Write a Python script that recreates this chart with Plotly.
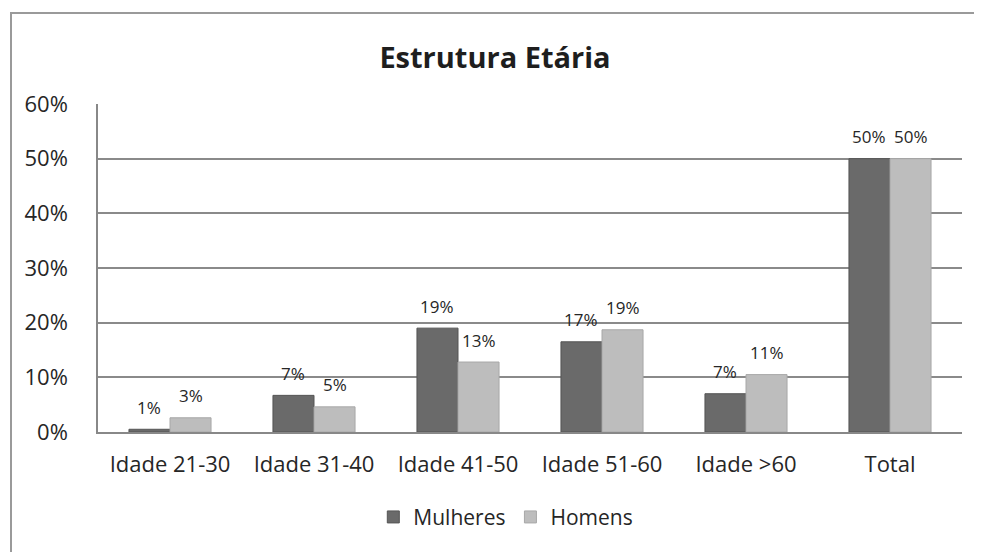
import plotly.graph_objects as go

categories = ["Idade 21-30", "Idade 31-40", "Idade 41-50", "Idade 51-60", "Idade >60", "Total"]
mulheres = [0.5, 6.7, 19.0, 16.5, 7.0, 50.0]
homens = [2.6, 4.6, 12.8, 18.7, 10.5, 50.0]
mulheres_labels = ["1%", "7%", "19%", "17%", "7%", "50%"]
homens_labels = ["3%", "5%", "13%", "19%", "11%", "50%"]
y_ticks = [0, 10, 20, 30, 40, 50, 60]

FONT = "Open Sans"
TEXT = "#262626"

# page body has an 8px margin, so figure is 8px smaller and margins shifted
W, H = 974, 544
L, R, T, B = 90, 20, 96, 120
plot_w = W - L - R
plot_h = H - T - B
BARGAP = 0.43
half_bar = plot_w / len(categories) * (1 - BARGAP) / 4

fig = go.Figure()
fig.add_trace(go.Bar(
    x=categories, y=mulheres, name="Mulheres",
    marker=dict(color="#6a6a6a", line=dict(color="#555555", width=1)),
))
fig.add_trace(go.Bar(
    x=categories, y=homens, name="Homens",
    marker=dict(color="#bdbdbd", line=dict(color="#a8a8a8", width=1)),
))

# data labels, placed above each bar like Excel does
annotations = []
for vals, labels, sign in [(mulheres, mulheres_labels, -1), (homens, homens_labels, 1)]:
    for cat, v, lab in zip(categories, vals, labels):
        annotations.append(dict(
            x=cat, y=v, text=lab, showarrow=False,
            xshift=sign * half_bar, yshift=22, yanchor="middle",
            font=dict(family=FONT, size=17, color=TEXT),
        ))

fig.update_layout(
    width=W, height=H,
    margin=dict(l=L, r=R, t=T, b=B, autoexpand=False),
    paper_bgcolor="white", plot_bgcolor="white",
    barmode="group", bargap=BARGAP, bargroupgap=0,
    title=dict(text="<b>Estrutura Etária</b>", x=0.5, xanchor="center",
               y=1 - 50 / H, yanchor="middle",
               font=dict(family=FONT, size=29, color="#1e1e1e")),
    legend=dict(orientation="h", x=0.472, xanchor="center", y=-0.26, yanchor="middle",
                font=dict(family=FONT, size=21, color=TEXT),
                itemwidth=30, traceorder="normal"),
    annotations=annotations,
    xaxis=dict(
        showline=True, linecolor="#888888", linewidth=1.5,
        ticks="", tickfont=dict(family=FONT, size=22, color=TEXT),
        ticklabelstandoff=12,
    ),
    yaxis=dict(
        range=[0, 60], tickvals=y_ticks, ticktext=[f"{v}%" for v in y_ticks],
        showgrid=True, gridcolor="#8a8a8a", gridwidth=1.5,
        showline=True, linecolor="#888888", linewidth=1.5,
        zeroline=False, ticks="",
        tickfont=dict(family=FONT, size=22, color=TEXT),
        ticklabelstandoff=24,
    ),
    shapes=[dict(type="rect", xref="paper", yref="paper",
                 x0=(3 - L) / plot_w, x1=1.1, y0=-0.5, y1=(H - B - 5) / plot_h,
                 line=dict(color="#9a9a9a", width=2), fillcolor="rgba(0,0,0,0)")],
)

fig.write_html("out.html")
